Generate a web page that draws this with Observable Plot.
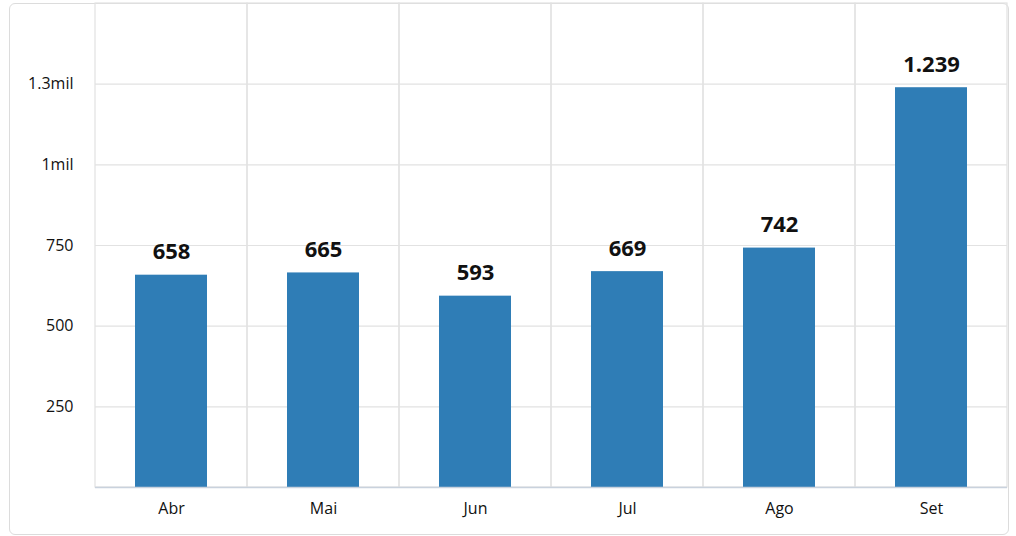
<!DOCTYPE html>
<html>
<head>
<meta charset="utf-8">
<script src="https://cdn.jsdelivr.net/npm/d3@7"></script>
<script src="https://cdn.jsdelivr.net/npm/@observablehq/plot@0.6"></script>
<style>
  html, body { margin: 0; padding: 0; background: #fff; }
  #wrap { position: relative; width: 1016px; height: 536px; }
  #frame { position: absolute; left: 9px; top: 3px; border: 1px solid #dcdcdc; border-radius: 6px; box-sizing: border-box; width: 1000px; height: 532px; }
  #chart { position: absolute; left: 0; top: 0; }
  svg { font-family: "Open Sans", "Noto Sans", sans-serif; }
</style>
</head>
<body>
<div id="wrap"><div id="frame"></div><div id="chart"></div></div>
<script>
const months = ["Abr", "Mai", "Jun", "Jul", "Ago", "Set"];
const values = [658, 665, 593, 669, 742, 1239];
const yTicks = [250, 500, 750, 1000, 1250];
const yTickLabels = ["250", "500", "750", "1mil", "1.3mil"];
const yMax = 1500;

const data = months.map((m, i) => ({month: m, value: values[i]}));
const pt = d3.formatLocale({decimal: ",", thousands: ".", grouping: [3], currency: ["R$", ""]});
const fmt = pt.format(",d");

const chart = Plot.plot({
  width: 1016,
  height: 536,
  marginLeft: 95,
  marginRight: 9,
  marginTop: 3,
  marginBottom: 49,
  style: {fontFamily: "'Open Sans', 'Noto Sans', sans-serif", background: "transparent"},
  x: {domain: months, padding: 0, label: null},
  y: {domain: [0, yMax], label: null},
  marks: [
    Plot.barY(months, {x: d => d, y1: 0, y2: yMax, fill: "none", stroke: "#e2e2e2", strokeWidth: 1.2}),
    Plot.ruleY(yTicks, {stroke: "#e2e2e2", strokeWidth: 1.2}),
    Plot.barY(data, {x: "month", y: "value", fill: "#2f7db6", insetLeft: 40, insetRight: 40}),
    Plot.ruleY([0], {stroke: "#c9d2dd", strokeWidth: 1.5}),
    Plot.axisY({ticks: yTicks, tickFormat: (d) => yTickLabels[yTicks.indexOf(d)], tickSize: 0, tickPadding: 22, fontSize: 16, color: "#111", label: null}),
    Plot.axisX({tickSize: 0, tickPadding: 15, fontSize: 16, color: "#111", label: null}),
    Plot.text(data, {x: "month", y: "value", text: d => fmt(d.value), dy: -16, lineAnchor: "bottom", fontSize: 22, fontWeight: "bold", fill: "#111"})
  ]
});
document.getElementById("chart").appendChild(chart);
</script>
</body>
</html>
